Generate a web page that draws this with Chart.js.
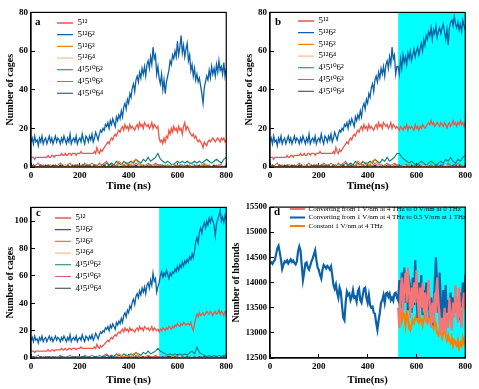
<!DOCTYPE html>
<html>
<head>
<meta charset="utf-8">
<script src="https://cdn.jsdelivr.net/npm/chart.js@4.4.1/dist/chart.umd.min.js"></script>
<style>
html, body { margin: 0; padding: 0; background: #fff; }
#wrap { position: relative; width: 479px; height: 389px; overflow: hidden; }
canvas { position: absolute; }
</style>
</head>
<body>
<div id="wrap">
  <canvas id="ca" width="240" height="195" style="left:0;top:0"></canvas>
  <canvas id="cb" width="239" height="195" style="left:240px;top:0"></canvas>
  <canvas id="cc" width="240" height="194" style="left:0;top:195px"></canvas>
  <canvas id="cd" width="251" height="194" style="left:228px;top:195px"></canvas>
</div>
<script>
(function(){
// cage types
const CAGE_LABELS = ['5¹²', '5¹²6²', '5¹²6³', '5¹²6⁴', '4¹5¹⁰6²', '4¹5¹⁰6³', '4¹5¹⁰6⁴'];
const CAGE_COLORS = ['#ef5446', '#0b62a8', '#ff8000', '#f9bf94', '#08807a', '#c4636b', '#243b5e'];

// 5^12 6^2 and 5^12, 0..520 ns every 5 ns (shared by a, b, c)
const bluePre = [
  13,15,12,16,13,14,11,15,13,16,12,14,
  15,12,14,16,13,15,12,14,16,13,15,14,
  12,15,13,16,14,12,15,13,17,12,14,15,
  13,16,12,14,15,13,17,14,12,16,15,13,
  16,14,17,13,15,18,16,14,17,19,18,20,
  19,22,21,23,20,24,22,25,23,21,26,24,
  27,25,29,26,31,33,30,35,33,38,36,41,
  43,39,45,47,44,49,46,51,48,52,47,53,
  55,51,57,53,62,56,58,48,52];
const redPre = [
  5,5,5,4,5,5,5,5,5,5,5,5,
  5,5,6,5,5,6,6,5,6,6,6,6,
  6,7,6,6,7,6,6,7,7,6,7,7,
  7,6,7,7,7,8,7,7,7,7,7,7,
  7,7,7,7,8,7,10,8,7,9,8,9,
  10,11,12,13,12,14,15,14,16,17,16,18,
  19,18,20,21,19,22,20,21,19,22,20,21,
  20,19,21,22,20,23,21,22,20,23,22,21,
  22,20,21,23,20,22,21,20,21];

// 525..800 ns every 5 ns
const blueA = [
  46,43,48,40,45,38,44,47,50,55,53,58,
  56,60,57,65,58,62,68,59,63,57,61,64,
  55,58,50,53,47,51,45,48,44,46,42,38,
  33,41,44,47,45,50,46,52,48,51,47,53,
  49,55,50,52,48,54,47,51];
const redA = [
  15,13,14,12,15,13,16,15,19,17,20,18,
  21,19,20,18,21,19,20,17,21,23,19,21,
  20,18,17,16,17,15,16,14,13,14,13,12,
  10,13,12,11,13,14,13,14,15,14,13,14,
  15,14,13,15,14,15,13,14];
const blueB = [
  52,48,56,51,58,54,57,53,59,56,60,55,
  58,61,57,60,62,58,61,64,60,66,63,68,
  66,70,68,72,66,71,69,73,67,70,72,69,
  72,74,70,66,71,63,72,75,76,73,78,74,
  72,75,71,74,70,76,73,71];
const redB = [
  20,19,21,20,19,21,20,22,19,21,20,21,
  20,19,22,20,21,19,21,20,22,21,20,21,
  22,23,22,24,22,23,21,22,23,22,21,23,
  22,21,23,22,20,22,23,21,22,24,22,23,
  21,23,22,24,22,23,21,23];
const blueC = [
  55,60,63,59,62,60,64,61,58,62,60,63,
  62,65,63,67,64,68,66,70,67,71,69,72,
  70,74,72,76,73,78,85,88,84,92,95,91,
  96,99,95,100,97,102,99,103,100,97,89,98,
  101,104,108,100,103,99,104,101];
const redC = [
  19,21,20,22,21,20,22,21,23,22,21,23,
  22,24,23,25,24,23,25,24,26,25,24,25,
  25,24,26,22,20,25,29,32,30,33,31,32,
  33,31,32,34,33,32,34,33,31,33,34,32,
  33,35,32,34,33,31,34,33];

// minor cages, 0..520 ns every 10 ns
const orangePre = [
  0,0,0,0,0,0,0,0,0,0,
  0,0,0,0,0,0,0,0,0,0,
  0,0,0,0,0,0,0,0,0,0,
  0,0,0,0,0,1,3,2,0,1,
  2,1,3,4,2,1,0,1,0,0,
  0,1,0];
const lightPre = [
  0,0,0,0,0,0,0,0,0,0,
  0,0,0,0,1,0,0,0,0,0,
  0,0,0,0,0,0,0,0,1,0,
  0,0,0,0,0,0,0,1,0,0,
  0,0,0,0,0,1,0,0,0,0,
  0,0,0];
const greenPre = [
  0,1,0,0,1,0,0,1,0,0,
  1,0,0,1,0,1,0,0,1,0,
  0,1,1,0,1,0,1,1,0,1,
  1,2,1,2,1,3,2,1,3,2,
  2,3,2,4,3,2,4,3,5,3,
  4,5,7];
const pinkPre = [
  1,0,1,2,0,1,0,1,1,0,
  0,1,2,1,0,1,2,0,1,1,
  1,0,2,1,1,2,1,0,2,1,
  2,3,1,2,1,0,2,1,1,2,
  1,0,1,2,1,1,0,1,2,1,
  1,2,1];
const navyPre = [
  0,1,0,0,1,0,1,0,0,1,
  0,0,1,0,1,0,0,1,0,1,
  0,1,0,1,0,0,1,0,1,0,
  1,0,1,1,0,1,0,1,1,0,
  1,1,0,1,0,1,1,0,1,1,
  0,1,1];

// 530..800 ns every 10 ns
const orangeA = [0,0,0,1,0,0,0,0,0,1,0,0,0,0,0,0,0,1,2,0,0,0,0,0,1,0,0,0];
const lightA  = [0,0,0,0,0,1,0,0,0,0,0,0,0,1,0,0,0,0,0,0,0,0,0,0,0,1,0,0];
const greenA  = [4,3,2,3,2,1,2,3,2,3,2,3,2,2,3,2,3,2,3,4,3,2,3,4,3,2,4,5];
const pinkA   = [1,0,1,0,1,1,0,1,0,0,1,0,1,0,0,1,0,1,1,0,1,0,0,1,0,1,0,1];
const navyA   = [1,1,0,1,0,1,1,0,1,1,0,1,0,1,1,0,1,0,1,1,0,0,1,0,1,1,0,1];

const orangeB = [0,0,0,0,1,0,0,0,0,0,0,1,0,0,0,0,0,0,0,0,1,0,0,0,0,0,0,0];
const lightB  = [0,0,1,0,0,0,0,0,0,0,1,0,0,0,0,0,0,0,0,1,0,0,0,0,0,0,0,0];
const greenB  = [7,5,4,3,2,3,2,1,2,3,2,1,2,3,2,1,2,3,2,4,3,5,3,2,4,3,5,6];
const pinkB   = [0,1,1,0,1,0,1,0,1,1,0,1,0,1,0,1,1,0,1,0,2,1,0,1,2,1,0,1];
const navyB   = [1,0,1,1,0,1,0,1,1,0,1,1,0,1,0,1,0,1,1,0,1,0,1,1,0,1,0,1];

const orangeC = [0,0,0,0,0,1,0,0,0,0,0,0,0,0,0,0,0,0,0,0,0,0,0,0,0,0,0,0];
const lightC  = [0,0,0,0,0,0,0,0,1,0,0,0,0,0,0,0,0,0,0,0,0,0,0,0,0,0,0,0];
const greenC  = [5,4,3,2,3,2,3,2,3,2,3,2,4,5,3,8,4,3,2,1,2,1,2,1,2,1,2,2];
const pinkC   = [1,0,1,0,0,1,0,1,0,1,0,0,1,0,1,0,0,1,0,0,1,0,1,0,0,1,0,0];
const navyC   = [0,1,0,1,1,0,1,0,0,1,0,1,0,0,1,0,1,0,1,0,0,1,0,1,0,0,1,0];

// panel d: hydrogen bonds
const D_LABELS = [
  'Converting from 1 V/nm at 4 THz to 0 V/nm at 0 THz',
  'Converting from 1 V/nm at 4 THz to 0.5 V/nm at 1 THz',
  'Constant 1 V/nm at 4 THz'];
const D_COLORS = ['#f47676', '#0b62a8', '#ff8000'];
const hbondPre = [
  14380,14400,14370,14420,14450,14560,14680,14730,14600,14450,14270,14350,
  14420,14400,14440,14380,14420,14460,14410,14440,14390,14360,14420,14620,
  14720,14640,14350,14050,14200,14380,14400,14300,14260,14340,14420,14480,
  14560,14640,14450,14300,14250,14150,14080,14250,14350,14320,14280,14330,
  14300,14260,14320,14150,13950,13880,13960,13800,13700,13900,13820,13550,
  13300,13250,13600,13820,13750,13780,13650,13720,13850,13700,13720,13620,
  13830,13880,13650,13600,13750,13880,13900,13700,13600,13750,13550,13500,
  13520,13400,13380,13200,13060,13250,13400,13600,13650,13750,13600,13780,
  13800,13720,13780,13650,13700,13640,13780,13800,13700];
const hbondBlue = [
  13650,14050,13500,14200,13700,14300,13600,14150,13450,14050,13900,13400,
  14100,13550,14450,13700,13300,14000,13500,14150,13350,13850,13600,14000,
  13450,13950,13300,13700,13150,13550,14000,14500,13900,13400,14200,13600,
  13200,13850,13400,13950,13150,13650,13300,13800,13250,13700,13450,13900,
  13400,13650,13250,13800,13500,14000,13600,14150];
const hbondPink = [
  13500,13100,13800,14100,13400,13900,14200,13600,14300,13800,13300,13900,
  13500,14000,13600,14250,13700,13300,13900,13500,14000,13400,13800,13200,
  13700,14050,13500,13100,13600,13200,13800,13400,14100,13650,13200,12950,
  13300,13050,13500,13000,13400,13100,13700,13300,13050,13600,13300,13950,
  13500,13200,13900,13350,13100,13600,13800,13450];
const hbondOrange = [
  13750,13600,13450,13250,13400,13350,13150,13400,13300,13100,13050,13150,
  13250,13200,13300,13350,13250,13200,13300,13250,13150,13300,13350,13250,
  13200,13300,13250,13150,13200,13100,13250,13150,13000,12950,13050,13000,
  12900,13000,13050,12950,12850,12950,12850,12800,12900,12750,12850,12800,
  12750,12850,12700,12800,12750,12900,12800,12850];

function steps(from, to, step) {
  const out = [];
  for (let v = from; v <= to; v += step) out.push(v);
  return out;
}
const T5 = steps(0, 800, 5);
const T10 = steps(0, 800, 10);
const T5_TAIL = T5.slice(105);

function pts(times, vals) {
  return vals.map((v, i) => ({x: times[i], y: v}));
}

Chart.defaults.font.family = "'Liberation Serif', 'DejaVu Serif', serif";
Chart.defaults.color = '#000';

const decor = {
  id: 'decor',
  afterLayout(chart, args, o) {
    const lg = chart.legend;
    if (!lg || o.legendX == null) return;
    const p = lg.options.labels.padding;
    const fs = lg.options.labels.font.size;
    lg.left = o.legendX - p;
    lg.top = o.legendY - fs / 2 - p;
    lg.right = chart.width;
    lg.bottom = chart.height;
  },
  beforeDraw(chart, args, o) {
    if (o.shadeFrom == null) return;
    const {ctx, chartArea: a} = chart;
    const x0 = chart.scales.x.getPixelForValue(o.shadeFrom);
    ctx.save();
    ctx.fillStyle = '#00ffff';
    ctx.fillRect(x0, a.top, a.right - x0, a.bottom - a.top);
    ctx.restore();
  },
  afterDraw(chart, args, o) {
    const {ctx, chartArea: a} = chart;
    ctx.save();
    ctx.strokeStyle = '#000';
    ctx.lineWidth = 1.2;
    ctx.strokeRect(a.left, a.top, a.right - a.left, a.bottom - a.top);
    ctx.fillStyle = '#000';
    ctx.font = "bold 11px 'Liberation Serif', 'DejaVu Serif', serif";
    ctx.textBaseline = 'middle';
    ctx.fillText(o.letter, o.letterX, o.letterY);
    ctx.restore();
  }
};

function axes(o) {
  return {
    x: {
      type: 'linear', min: 0, max: 800,
      ticks: {stepSize: 200, maxRotation: 0, autoSkip: false, padding: 7, font: {size: 9, weight: 'bold'}},
      grid: {drawOnChartArea: false, tickLength: -4, color: '#000'},
      border: {color: '#000', width: 1.2},
      title: {display: true, text: o.xTitle, font: {size: o.xTitleSize || 11, weight: 'bold'}, padding: {top: 0, bottom: 2.5}},
      afterFit: (s) => { s.height = o.xH; }
    },
    y: {
      min: o.ymin, max: o.ymax,
      ticks: {stepSize: o.ystep, padding: 7, font: {size: o.yTickSize || 9, weight: 'bold'},
              callback: (v) => String(v)},
      afterBuildTicks: (s) => { s.ticks = s.ticks.filter((t) => t.value <= o.ylast); },
      grid: {drawOnChartArea: false, tickLength: -4, color: '#000'},
      border: {color: '#000', width: 1.2},
      title: {display: true, text: o.yTitle, font: {size: 10, weight: 'bold'}, padding: {top: o.yTitlePad, bottom: 0}},
      afterFit: (s) => { s.width = o.yW; }
    }
  };
}

function cagePanel(id, o) {
  const series = [
    [T5, redPre.concat(o.red)],
    [T5, bluePre.concat(o.blue)],
    [T10, orangePre.concat(o.orange)],
    [T10, lightPre.concat(o.light)],
    [T10, greenPre.concat(o.green)],
    [T10, pinkPre.concat(o.pink)],
    [T10, navyPre.concat(o.navy)]
  ];
  const datasets = CAGE_LABELS.map((lab, i) => ({
    label: lab,
    data: pts(series[i][0], series[i][1]),
    borderColor: CAGE_COLORS[i],
    backgroundColor: CAGE_COLORS[i],
    borderWidth: i < 2 ? 1.3 : 1.1,
    pointRadius: 0,
    tension: 0
  }));
  new Chart(document.getElementById(id), {
    type: 'line',
    data: {datasets: datasets},
    options: {
      responsive: false, animation: false, devicePixelRatio: 1,
      layout: {padding: o.pad},
      scales: axes(o),
      plugins: {
        tooltip: {enabled: false},
        legend: {
          position: 'chartArea', fullSize: false, align: 'start',
          labels: {usePointStyle: true, pointStyle: 'line', pointStyleWidth: 16, padding: 2.7,
                   font: {size: 9}, color: '#000'}
        },
        decor: o.decor
      }
    },
    plugins: [decor]
  });
}

cagePanel('ca', {
  red: redA, blue: blueA, orange: orangeA, light: lightA, green: greenA, pink: pinkA, navy: navyA,
  ymin: 0, ymax: 80, ystep: 20, ylast: 80, yTitle: 'Number of cages', xTitle: 'Time (ns)',
  pad: {left: 0, right: 13, top: 11, bottom: 0}, yW: 31, xH: 28, yTitlePad: 4,
  decor: {letter: 'a', letterX: 35, letterY: 22, legendX: 57, legendY: 23}
});
cagePanel('cb', {
  red: redB, blue: blueB, orange: orangeB, light: lightB, green: greenB, pink: pinkB, navy: navyB,
  ymin: 0, ymax: 80, ystep: 20, ylast: 80, yTitle: 'Number of cages', xTitle: 'Time(ns)',
  pad: {left: 0, right: 12, top: 11, bottom: 0}, yW: 30, xH: 28, yTitlePad: 3,
  decor: {letter: 'b', letterX: 35, letterY: 22, legendX: 58, legendY: 21, shadeFrom: 525}
});
cagePanel('cc', {
  red: redC, blue: blueC, orange: orangeC, light: lightC, green: greenC, pink: pinkC, navy: navyC,
  ymin: 0, ymax: 110, ystep: 20, ylast: 100, yTitle: 'Number of cages', xTitle: 'Time (ns)',
  pad: {left: 0, right: 13, top: 7, bottom: 0}, yW: 31, xH: 31, yTitlePad: 4,
  decor: {letter: 'c', letterX: 36, letterY: 18, legendX: 55, legendY: 23, shadeFrom: 525}
});

// panel d
new Chart(document.getElementById('cd'), {
  type: 'line',
  data: {
    datasets: [
      {label: D_LABELS[0], data: pts(T5_TAIL, hbondPink), borderColor: D_COLORS[0], backgroundColor: D_COLORS[0]},
      {label: D_LABELS[1], data: pts(T5, hbondPre.concat(hbondBlue)), borderColor: D_COLORS[1], backgroundColor: D_COLORS[1]},
      {label: D_LABELS[2], data: pts(T5_TAIL, hbondOrange), borderColor: D_COLORS[2], backgroundColor: D_COLORS[2]}
    ].map((d) => Object.assign(d, {borderWidth: 2.2, pointRadius: 0, tension: 0}))
  },
  options: {
    responsive: false, animation: false, devicePixelRatio: 1,
    layout: {padding: {left: 0, right: 12, top: 7, bottom: 0}},
    scales: axes({
      ymin: 12500, ymax: 15500, ystep: 500, ylast: 15500, yTickSize: 8.5,
      yTitle: 'Number of hbonds', xTitle: 'Time(ns)', xTitleSize: 10.5,
      yW: 42, xH: 31, yTitlePad: 2
    }),
    plugins: {
      tooltip: {enabled: false},
      legend: {
        position: 'chartArea', fullSize: false, align: 'start',
        labels: {usePointStyle: true, pointStyle: 'line', pointStyleWidth: 15, padding: 1.5,
                 font: {size: 7}, color: '#000'}
      },
      decor: {letter: 'd', letterX: 46, letterY: 17, legendX: 62, legendY: 14, shadeFrom: 525}
    }
  },
  plugins: [decor]
});
}());
</script>
</body>
</html>
